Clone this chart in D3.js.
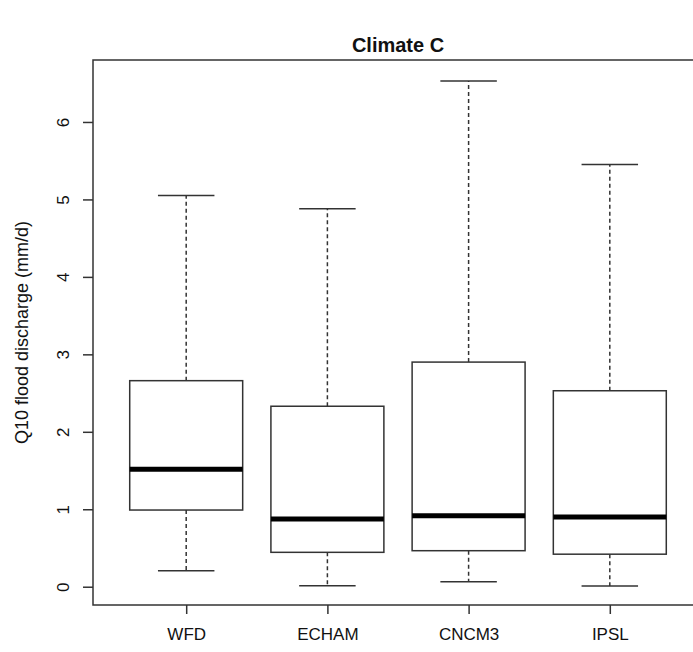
<!DOCTYPE html>
<html>
<head>
<meta charset="utf-8">
<script src="https://cdn.jsdelivr.net/npm/d3@7"></script>
<style>
  html, body { margin: 0; padding: 0; background: #fff; }
  svg { display: block; }
  text { font-family: "Liberation Sans", Arial, sans-serif; fill: #111; }
</style>
</head>
<body>
<svg id="chart" width="693" height="652"></svg>
<script>
// Data
const categories = ["WFD", "ECHAM", "CNCM3", "IPSL"];
const whiskerLow = [0.207, 0.013, 0.065, 0.01];
const q1 = [0.99, 0.444, 0.465, 0.42];
const medians = [1.517, 0.875, 0.917, 0.90];
const q3 = [2.66, 2.33, 2.90, 2.53];
const whiskerHigh = [5.05, 4.88, 6.53, 5.45];
const yTicks = [0, 1, 2, 3, 4, 5, 6];
const title = "Climate C";
const yLabel = "Q10 flood discharge (mm/d)";

const svg = d3.select("#chart");
const plot = { left: 93, right: 703, top: 60, bottom: 605 };

const x = d3.scaleLinear().domain([0.34, categories.length + 0.66]).range([plot.left, plot.right]);
const y = d3.scaleLinear().domain([-0.236, 6.8]).range([plot.bottom, plot.top]);
const unit = x(2) - x(1);
const boxW = unit * 0.8;
const capW = boxW * 0.5;
const stroke = "#333";

const data = categories.map((c, i) => ({
  c, i: i + 1, lo: whiskerLow[i], q1: q1[i], med: medians[i], q3: q3[i], hi: whiskerHigh[i]
}));

// Title
svg.append("text").attr("x", (plot.left + plot.right) / 2).attr("y", 52)
  .attr("text-anchor", "middle").style("font-size", "20px").style("font-weight", "bold")
  .text(title);

const g = svg.append("g");

// boxes
const b = g.selectAll("g.box").data(data).join("g").attr("class", "box");
b.append("line").attr("x1", d => x(d.i)).attr("x2", d => x(d.i))
  .attr("y1", d => y(d.q3)).attr("y2", d => y(d.hi))
  .attr("stroke", stroke).attr("stroke-width", 1.5).attr("stroke-dasharray", "4,3");
b.append("line").attr("x1", d => x(d.i)).attr("x2", d => x(d.i))
  .attr("y1", d => y(d.q1)).attr("y2", d => y(d.lo))
  .attr("stroke", stroke).attr("stroke-width", 1.5).attr("stroke-dasharray", "4,3");
b.append("line").attr("x1", d => x(d.i) - capW / 2).attr("x2", d => x(d.i) + capW / 2)
  .attr("y1", d => y(d.hi)).attr("y2", d => y(d.hi)).attr("stroke", stroke).attr("stroke-width", 1.5);
b.append("line").attr("x1", d => x(d.i) - capW / 2).attr("x2", d => x(d.i) + capW / 2)
  .attr("y1", d => y(d.lo)).attr("y2", d => y(d.lo)).attr("stroke", stroke).attr("stroke-width", 1.5);
b.append("rect").attr("x", d => x(d.i) - boxW / 2).attr("width", boxW)
  .attr("y", d => y(d.q3)).attr("height", d => y(d.q1) - y(d.q3))
  .attr("fill", "#fff").attr("stroke", stroke).attr("stroke-width", 1.5);
b.append("line").attr("x1", d => x(d.i) - boxW / 2).attr("x2", d => x(d.i) + boxW / 2)
  .attr("y1", d => y(d.med)).attr("y2", d => y(d.med)).attr("stroke", "#000").attr("stroke-width", 5);

// frame (right side beyond the window)
svg.append("rect").attr("x", plot.left).attr("y", plot.top)
  .attr("width", plot.right - plot.left).attr("height", plot.bottom - plot.top)
  .attr("fill", "none").attr("stroke", stroke).attr("stroke-width", 1.5);

// y axis
const yAxis = d3.axisLeft(y).tickValues(yTicks).tickSize(10).tickPadding(14).tickFormat(d3.format("d"));
const ya = svg.append("g").attr("transform", `translate(${plot.left},0)`).call(yAxis);
ya.select(".domain").remove();
ya.selectAll(".tick line").attr("stroke", stroke).attr("stroke-width", 1.5);
ya.selectAll(".tick text")
  .attr("x", null).attr("dy", null)
  .attr("transform", "translate(-30,0) rotate(-90)")
  .attr("text-anchor", "middle").attr("dy", "0.35em")
  .style("font-size", "17px").style("font-family", "'Liberation Sans', Arial, sans-serif").attr("fill", "#111");

// x axis
const xAxis = d3.axisBottom(x).tickValues(data.map(d => d.i)).tickSize(9).tickPadding(14)
  .tickFormat((d) => categories[d - 1]);
const xa = svg.append("g").attr("transform", `translate(0,${plot.bottom})`).call(xAxis);
xa.select(".domain").remove();
xa.selectAll(".tick line").attr("stroke", stroke).attr("stroke-width", 1.5);
xa.selectAll(".tick text").style("font-size", "17px")
  .style("font-family", "'Liberation Sans', Arial, sans-serif").attr("fill", "#111");

// y label
svg.append("text").attr("transform", `translate(28,${(plot.top + plot.bottom) / 2}) rotate(-90)`)
  .attr("text-anchor", "middle").style("font-size", "18px").text(yLabel);
</script>
</body>
</html>
